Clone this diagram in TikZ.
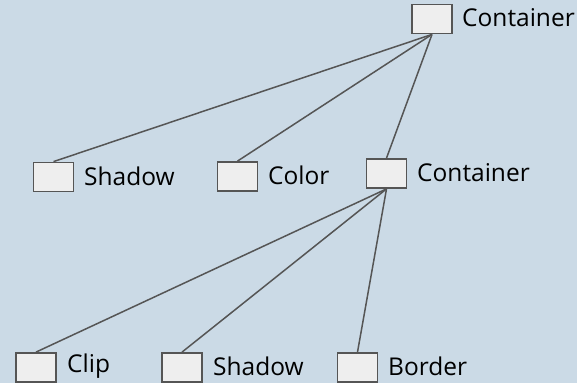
\documentclass[tikz,border=0pt]{standalone}
\usepackage{fontspec}
\setmainfont{Open Sans}
\definecolor{bg}{HTML}{CBDAE6}
\definecolor{boxfill}{HTML}{EEEEEE}
\definecolor{edge}{HTML}{555555}
\begin{document}
\begin{tikzpicture}[x=1pt,y=-1pt,
  leaf/.style={draw=edge,line width=1.8pt,fill=boxfill,minimum width=40pt,minimum height=29pt,inner sep=0pt},
  lbl/.style={anchor=west,font=\fontsize{24.5}{26}\selectfont,inner sep=0pt,text=black},
  conn/.style={draw=edge,line width=1.5pt}]
\fill[bg] (0,0) rectangle (577,383);
\useasboundingbox (0,0) rectangle (577,383);
\node[leaf] (c1) at (432,19) {};
\node[lbl] at (462,18) {Container};
\node[leaf] (s1) at (53.5,177) {};
\node[lbl] at (84,176) {Shadow};
\node[leaf] (co) at (237.5,176.5) {};
\node[lbl] at (268,175.5) {Color};
\node[leaf] (c2) at (386.5,173.5) {};
\node[lbl] at (417,172.5) {Container};
\node[leaf] (cl) at (36,367.5) {};
\node[lbl] at (67,366.5) {Clip};
\node[leaf] (s2) at (182,367.5) {};
\node[lbl] at (213,366.5) {Shadow};
\node[leaf] (bo) at (357.5,367.5) {};
\node[lbl] at (388,366.5) {Border};
\draw[conn] (c1.south) -- (s1.north);
\draw[conn] (c1.south) -- (co.north);
\draw[conn] (c1.south) -- (c2.north);
\draw[conn] (c2.south) -- (cl.north);
\draw[conn] (c2.south) -- (s2.north);
\draw[conn] (c2.south) -- (bo.north);
\end{tikzpicture}
\end{document}
